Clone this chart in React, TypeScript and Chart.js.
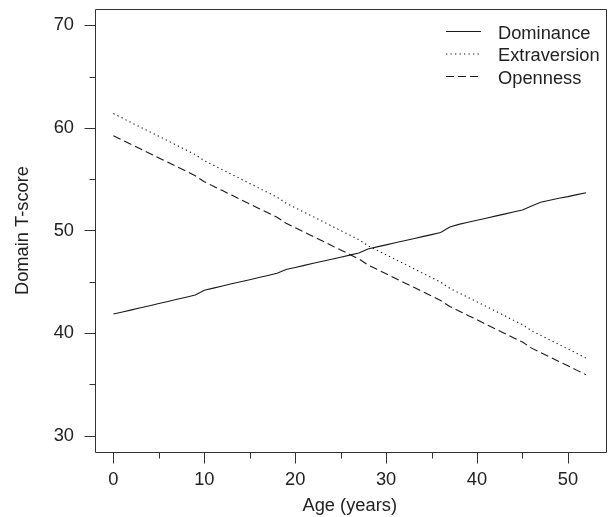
import React, { useEffect, useRef } from "react";
import { Chart, registerables } from "chart.js";

Chart.register(...registerables);

const ages = [0,1,2,3,4,5,6,7,8,9,10,11,12,13,14,15,16,17,18,19,20,21,22,23,24,25,26,27,28,29,30,31,32,33,34,35,36,37,38,39,40,41,42,43,44,45,46,47,48,49,50,51,52];

const dominance = [41.85,42.06,42.26,42.47,42.67,42.88,43.08,43.29,43.49,43.7,44.17,44.38,44.59,44.8,45.0,45.2,45.41,45.62,45.83,46.2,46.4,46.6,46.8,47.0,47.2,47.4,47.6,47.8,48.2,48.4,48.6,48.8,49.0,49.2,49.4,49.6,49.8,50.35,50.6,50.8,51.0,51.2,51.4,51.6,51.8,52.0,52.4,52.75,52.95,53.15,53.3,53.5,53.68];

const extraversion = [61.4,60.96,60.51,60.07,59.62,59.18,58.74,58.29,57.85,57.4,56.81,56.36,55.92,55.48,55.03,54.59,54.14,53.7,53.26,52.66,52.22,51.77,51.33,50.89,50.44,50.0,49.55,49.11,48.52,48.07,47.63,47.18,46.74,46.3,45.85,45.41,44.96,44.37,43.93,43.48,43.04,42.6,42.15,41.71,41.26,40.82,40.23,39.78,39.34,38.89,38.45,38.01,37.56];

const openness = [59.25,58.82,58.38,57.95,57.51,57.08,56.65,56.21,55.78,55.34,54.76,54.32,53.89,53.46,53.02,52.59,52.15,51.72,51.29,50.7,50.27,49.84,49.4,48.97,48.53,48.1,47.67,47.23,46.65,46.21,45.78,45.34,44.91,44.48,44.04,43.61,43.17,42.59,42.16,41.72,41.29,40.85,40.42,39.99,39.55,39.12,38.53,38.1,37.67,37.23,36.8,36.36,35.93];

const seriesNames = ["Dominance", "Extraversion", "Openness"];
const xTicks = [0, 5, 10, 15, 20, 25, 30, 35, 40, 45, 50];
const yTicks = [30, 35, 40, 45, 50, 55, 60, 65, 70];
const xMajor = [0, 10, 20, 30, 40, 50];
const yMajor = [30, 40, 50, 60, 70];
const xTitle = "Age (years)";
const yTitle = "Domain T-score";

const FONT = "'Liberation Sans', Arial, Helvetica, sans-serif";
const FSIZE = 18.3;
const INK = "#222";
const dashes = [[], [1.3, 3.2], [8, 4]];

const zeroPad = (s: any) => {
  s.paddingTop = 0;
  s.paddingBottom = 0;
  s.paddingLeft = 0;
  s.paddingRight = 0;
};

const boxPlugin = {
  id: "rBox",
  afterDraw(chart: any) {
    const ctx = chart.ctx;
    const { left, right, top, bottom } = chart.chartArea;
    const xs = chart.scales.x;
    const ys = chart.scales.y;
    ctx.save();
    ctx.strokeStyle = "#333";
    ctx.lineWidth = 1;
    ctx.setLineDash([]);
    ctx.beginPath();
    ctx.rect(Math.round(left) + 0.5, Math.round(top) + 0.5, Math.round(right - left), Math.round(bottom - top));
    ctx.stroke();
    ctx.beginPath();
    xTicks.forEach((v) => {
      const px = Math.round(xs.getPixelForValue(v)) + 0.5;
      const len = xMajor.includes(v) ? 11 : 6;
      ctx.moveTo(px, Math.round(bottom) + 0.5);
      ctx.lineTo(px, Math.round(bottom) + 0.5 + len);
    });
    yTicks.forEach((v) => {
      const py = Math.round(ys.getPixelForValue(v)) + 0.5;
      const len = yMajor.includes(v) ? 11 : 6;
      ctx.moveTo(Math.round(left) + 0.5, py);
      ctx.lineTo(Math.round(left) + 0.5 - len, py);
    });
    ctx.stroke();

    // legend
    const lx0 = 446, lx1 = 481, tx = 498;
    chart.data.datasets.forEach((ds: any, i: number) => {
      const y = 31.5 + i * 22.5;
      ctx.beginPath();
      ctx.strokeStyle = "#1a1a1a";
      ctx.lineWidth = 1.1;
      ctx.setLineDash(dashes[i]);
      ctx.moveTo(lx0, y);
      ctx.lineTo(lx1, y);
      ctx.stroke();
      ctx.setLineDash([]);
      ctx.fillStyle = INK;
      ctx.font = `${FSIZE}px ${FONT}`;
      ctx.textBaseline = "middle";
      ctx.textAlign = "left";
      ctx.fillText(ds.label, tx, y + 2);
    });
    ctx.restore();
  },
};

export default function App() {
  const ref = useRef<HTMLCanvasElement | null>(null);
  useEffect(() => {
    if (!ref.current) return;
    const series = [dominance, extraversion, openness];
    const chart = new Chart(ref.current, {
      type: "line",
      data: {
        datasets: series.map((s, i) => ({
          label: seriesNames[i],
          data: ages.map((a, j) => ({ x: a, y: s[j] })),
          borderColor: "#1a1a1a",
          borderWidth: 1.1,
          borderDash: dashes[i],
          pointRadius: 0,
          tension: 0,
          fill: false,
        })),
      },
      options: {
        responsive: false,
        animation: false,
        devicePixelRatio: 1,
        layout: { padding: { left: 0, top: 9, right: 4, bottom: 0 } },
        plugins: { legend: { display: false }, tooltip: { enabled: false } },
        scales: {
          x: {
            type: "linear",
            min: -2.08,
            max: 54.08,
            afterFit: (s: any) => { s.height = 65; zeroPad(s); },
            afterBuildTicks: (s: any) => { s.ticks = xTicks.map((v) => ({ value: v })); },
            grid: { display: false, drawTicks: false },
            border: { display: false },
            ticks: {
              autoSkip: false,
              maxRotation: 0,
              padding: 16.5,
              color: INK,
              font: { family: FONT, size: FSIZE },
              callback: (v: any) => (xMajor.includes(Number(v)) ? String(v) : ""),
            },
            title: {
              display: true,
              text: xTitle,
              color: INK,
              font: { family: FONT, size: FSIZE },
              padding: { top: 0, bottom: 0 },
            },
          },
          y: {
            type: "linear",
            min: 28.4,
            max: 71.6,
            afterFit: (s: any) => { s.width = 94.5; zeroPad(s); },
            afterBuildTicks: (s: any) => { s.ticks = yTicks.map((v) => ({ value: v })); },
            grid: { display: false, drawTicks: false },
            border: { display: false },
            ticks: {
              autoSkip: false,
              padding: 20.5,
              color: INK,
              font: { family: FONT, size: FSIZE },
              callback: (v: any) => (yMajor.includes(Number(v)) ? String(v) : ""),
            },
            title: {
              display: true,
              text: yTitle,
              color: INK,
              font: { family: FONT, size: FSIZE },
              padding: { top: 12, bottom: 0 },
            },
          },
        },
      },
      plugins: [boxPlugin],
    });
    return () => chart.destroy();
  }, []);
  return (
    <div style={{ position: "fixed", left: 0, top: 0, width: 609, height: 517, background: "#fff" }}>
      <canvas ref={ref} width={609} height={517} />
    </div>
  );
}
